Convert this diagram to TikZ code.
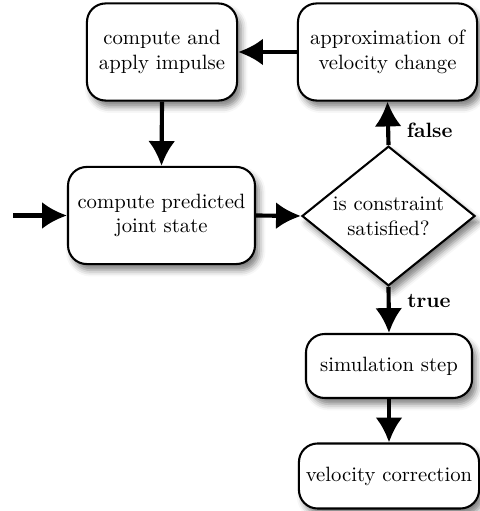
\documentclass[tikz,border=0pt]{standalone}
\usetikzlibrary{shapes.geometric,shadows.blur,arrows.meta}
\begin{document}
\begin{tikzpicture}[x=0.483pt,y=-0.483pt,
  box/.style={draw,line width=1pt,rounded corners=9pt,fill=white,align=center,
    blur shadow={shadow xshift=2pt,shadow yshift=-3pt,shadow blur radius=3pt,shadow opacity=50},
    inner sep=0pt},
  dia/.style={draw,line width=1pt,shape=diamond,aspect=1.24,inner sep=1.5pt,fill=white,align=center,
    blur shadow={shadow xshift=2pt,shadow yshift=-3pt,shadow blur radius=3pt,shadow opacity=50}},
  arr/.style={line width=2pt,-{Latex[length=12pt,width=13pt]}},
  lab/.style={font=\bfseries,inner sep=2pt}]
\useasboundingbox (0,0) rectangle (480,511);
\node[box,minimum width=72.5pt,minimum height=46.9pt] (imp) at (162,52) {compute and\\apply impulse};
\node[box,minimum width=86.5pt,minimum height=46.9pt] (apx) at (387.5,52) {approximation of\\velocity change};
\node[box,minimum width=90.3pt,minimum height=46.9pt] (pred) at (161.5,215.5) {compute predicted\\joint state};
\node[dia] (dec) at (388.5,216) {is constraint\\satisfied?};
\node[box,minimum width=80.2pt,minimum height=30.9pt] (sim) at (389,366) {simulation step};
\node[box,minimum width=87pt,minimum height=31.4pt] (vel) at (389,476) {velocity correction};
\coordinate (start) at (13,215.5);
\draw[arr] (start) -- (pred.west);
\draw[arr] (imp.south) -- (pred.north);
\draw[arr] (apx.west) -- (imp.east);
\draw[arr] (pred.east) -- (dec.west);
\draw[arr] (dec.north) -- node[lab,right,xshift=6pt,pos=0.35]{false} (apx.south);
\draw[arr] (dec.south) -- node[lab,right,xshift=6pt,pos=0.3]{true} (sim.north);
\draw[arr] (sim.south) -- (vel.north);
\end{tikzpicture}
\end{document}
